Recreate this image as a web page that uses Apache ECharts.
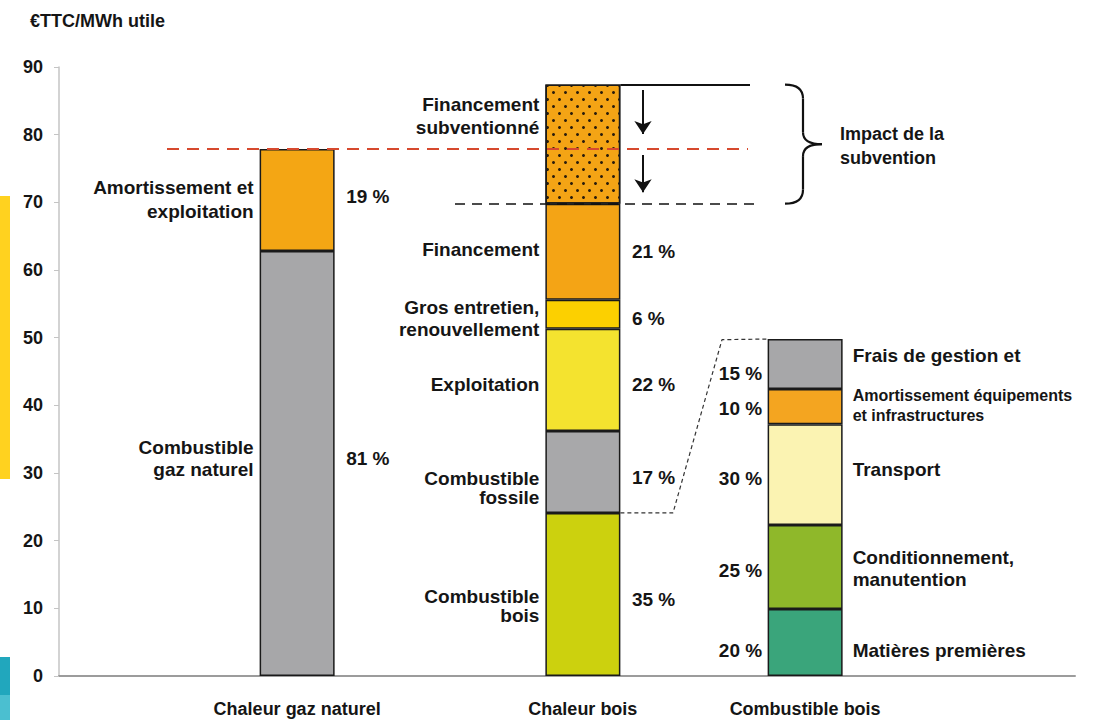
<!DOCTYPE html>
<html><head><meta charset="utf-8">
<script src="https://cdn.jsdelivr.net/npm/echarts@6/dist/echarts.min.js"></script>
<style>html,body{margin:0;padding:0;background:#fff}#c{width:1094px;height:720px}</style>
</head><body><div id="c"></div>
<script>
// ---------------- DATA ----------------
const barCategories = ['Chaleur gaz naturel', 'Chaleur bois', 'Combustible bois'];
const yAxisTitle = '€TTC/MWh utile';
const yMin = 0, yMax = 90, yStep = 10;

const gasSegments = ['Combustible\ngaz naturel', 'Amortissement et\nexploitation'];
const gasValues = [62.8, 15.1];
const gasShares = ['81 %', '19 %'];

const woodSegments = ['Combustible\nbois', 'Combustible\nfossile', 'Exploitation', 'Gros entretien,\nrenouvellement', 'Financement', 'Financement\nsubventionné'];
const woodValues = [24.1, 12.1, 15.1, 4.3, 14.2, 17.6];
const woodShares = ['35 %', '17 %', '22 %', '6 %', '21 %', ''];

const fuelSegments = ['Matières premières', 'Conditionnement,\nmanutention', 'Transport', 'Amortissement équipements\net infrastructures', 'Frais de gestion et'];
const fuelValues = [9.9, 12.4, 14.9, 5.2, 7.4];
const fuelShares = ['20 %', '25 %', '30 %', '10 %', '15 %'];

const braceText = 'Impact de la\nsubvention';

// ---------------- LAYOUT / STYLE ----------------
const SLOTS = 32;
const SLOT_OF = [7, 16, 23];
const GRID = { left: 59, right: 19, top: 67, bottom: 44 };
const W = 1094;
const BAND = (W - GRID.left - GRID.right) / SLOTS;
const BAR_W = 75;
const FONT = '"Liberation Sans", Arial, Helvetica, sans-serif';
const TXT = '#151515';

const gasColors = ['#a7a7a9', '#f4a614'];
const woodColors = ['#ccd10e', '#a8a8aa', '#f4e32f', '#fcd000', '#f4a415', '#f4a415'];
const fuelColors = ['#3aa57b', '#8fb82a', '#fbf3b2', '#f4a520', '#a7a7a9'];

const gasNameDy = [-5, 0], gasLineH = [22, 24], gasPctDy = [-5, -3];
const woodNameDy = [12, 16, 5, 4, -2, -28], woodLineH = [19, 19, 22, 22, 22, 23], woodPctDy = [5, 6, 5, 4, 0, 0];
const fuelNameDy = [8, 1, -5, -1, -9], fuelLineH = [22, 22, 22, 20, 22], fuelFont = [19, 19, 19, 16, 19], fuelPctDy = [8, 3, 4, 2, 9];

const dotDecal = { symbol: 'circle', symbolSize: 1, color: '#2b1d0c',
  dashArrayX: [[3, 9], [0, 6, 3, 3]], dashArrayY: [3, 4], rotation: 0 };

const categories = Array.from({ length: SLOTS }, (_, i) => {
  const k = SLOT_OF.indexOf(i); return k >= 0 ? barCategories[k] : '';
});
const sum = a => a.reduce((s, v) => s + v, 0);

const series = [];
function addBars(g, names, values, colors, side, nameDy, lineH, fontSz, decals) {
  const slot = SLOT_OF[g];
  names.forEach((nm, j) => {
    const data = new Array(SLOTS).fill('-');
    data[slot] = { value: values[j], label: { offset: [0, nameDy[j]], lineHeight: lineH[j], fontSize: fontSz ? fontSz[j] : 19 } };
    const itemStyle = { color: colors[j], borderColor: '#1a1a1a', borderWidth: 1.5 };
    if (decals && decals[j]) itemStyle.decal = decals[j];
    series.push({
      type: 'bar', name: nm.replace('\n', ' '), stack: 'total', barWidth: BAR_W,
      xAxisIndex: 0, yAxisIndex: 0, silent: true, z: 2, itemStyle,
      label: { show: true, position: side, distance: side === 'left' ? 6 : 10, formatter: nm,
        color: TXT, fontFamily: FONT, fontWeight: 'bold', fontSize: 19 },
      data
    });
  });
}
function addShares(g, values, shares, side, dy) {
  const slot = SLOT_OF[g]; let cum = 0; const data = [];
  values.forEach((v, j) => {
    const mid = cum + v / 2; cum += v;
    if (shares[j]) data.push({ name: shares[j], value: [slot + 0.5, mid], label: { offset: [0, dy[j]] } });
  });
  series.push({
    type: 'scatter', xAxisIndex: 1, yAxisIndex: 0, symbolSize: 1, silent: true, z: 4,
    itemStyle: { color: 'rgba(0,0,0,0)', opacity: 1 },
    label: { show: true, position: side, distance: BAR_W / 2 + (side === 'right' ? 11 : 5), formatter: '{b}',
      color: TXT, opacity: 1, fontFamily: FONT, fontWeight: 'bold', fontSize: 19 },
    data
  });
}

addBars(0, gasSegments, gasValues, gasColors, 'left', gasNameDy, gasLineH);
addBars(1, woodSegments, woodValues, woodColors, 'left', woodNameDy, woodLineH, null, [null, null, null, null, null, dotDecal]);
addBars(2, fuelSegments, fuelValues, fuelColors, 'right', fuelNameDy, fuelLineH, fuelFont);
addShares(0, gasValues, gasShares, 'right', gasPctDy);
addShares(1, woodValues, woodShares, 'right', woodPctDy);
addShares(2, fuelValues, fuelShares, 'left', fuelPctDy);

// annotations (in data units)
const u = px => (px - GRID.left) / BAND;
const barEdge = (g, s) => SLOT_OF[g] + 0.5 + s * BAR_W / 2 / BAND;
const gasTotal = sum(gasValues);
const woodTotal = sum(woodValues);
const woodNet = woodTotal - woodValues[woodValues.length - 1];
const fuelTotal = sum(fuelValues);
const arrowX = u(643);

const annIdx = series.length;
series.push({
  type: 'line', xAxisIndex: 1, yAxisIndex: 0, silent: true, z: 5, symbol: 'none',
  lineStyle: { color: '#333', width: 1.2, type: [4, 3] },
  data: [[barEdge(1, 1), woodValues[0]], [u(673), woodValues[0]], [u(722), fuelTotal - 0.1], [barEdge(2, -1), fuelTotal]],
  markLine: {
    silent: true, symbol: ['none', 'none'], label: { show: false }, animation: false,
    data: [
      [{ coord: [u(167), gasTotal], lineStyle: { color: '#d6492e', width: 2.2, type: [12, 8] } }, { coord: [u(748), gasTotal] }],
      [{ coord: [u(455), woodNet], lineStyle: { color: '#111', width: 1.6, type: [10, 7] } }, { coord: [u(760), woodNet] }],
      [{ coord: [barEdge(1, 1), woodTotal], lineStyle: { color: '#111', width: 2, type: 'solid' } }, { coord: [u(750), woodTotal] }],
      [{ coord: [arrowX, woodTotal - 0.8], symbol: 'none', lineStyle: { color: '#111', width: 2, type: 'solid' } },
       { coord: [arrowX, gasTotal + 2.2], symbol: 'arrow', symbolSize: [13, 13] }],
      [{ coord: [arrowX, gasTotal - 0.9], symbol: 'none', lineStyle: { color: '#111', width: 2, type: 'solid' } },
       { coord: [arrowX, woodNet + 1.7], symbol: 'arrow', symbolSize: [13, 13] }]
    ]
  }
});

const chart = echarts.init(document.getElementById('c'), null, { renderer: 'svg' });
chart.setOption({
  animation: false,
  backgroundColor: '#fff',
  title: { text: yAxisTitle, left: 25, top: 7, textStyle: { fontFamily: FONT, fontWeight: 'bold', fontSize: 18, color: TXT } },
  grid: { left: GRID.left, right: GRID.right, top: GRID.top, bottom: GRID.bottom, containLabel: false },
  xAxis: [
    { type: 'category', data: categories, axisTick: { show: false },
      axisLine: { lineStyle: { color: '#9c9c9c', width: 2 } },
      axisLabel: { interval: 0, fontFamily: FONT, fontWeight: 'bold', fontSize: 18, color: TXT, margin: 24 } },
    { type: 'value', min: 0, max: SLOTS, show: false }
  ],
  yAxis: { type: 'value', min: yMin, max: yMax, interval: yStep,
    axisLine: { show: true, lineStyle: { color: '#c4c4c4', width: 1.5 } },
    axisTick: { show: true, length: 5, lineStyle: { color: '#c4c4c4' } },
    splitLine: { show: false },
    axisLabel: { fontFamily: FONT, fontWeight: 'bold', fontSize: 18, color: TXT, margin: 16 } },
  series
});

// brace built from data-unit anchors
const P = (x, y) => chart.convertToPixel({ seriesIndex: annIdx }, [x, y]);
const bxS = u(785), bxM = u(803), bxT = u(822);
const braceTop = P(bxS, woodTotal), braceBot = P(bxS, woodNet);
const braceMid = (braceTop[1] + braceBot[1]) / 2;
const xS = braceTop[0], xM = P(bxM, 0)[0], xT = P(bxT, 0)[0];
const yT = braceTop[1], yB = braceBot[1];
const bs = { stroke: '#111', lineWidth: 2.2, fill: null };
const rr = 14;
chart.setOption({
  graphic: [
    { type: 'rect', shape: { x: 0, y: 196, width: 10, height: 283 }, style: { fill: '#ffd21f' }, silent: true },
    { type: 'rect', shape: { x: 0, y: 657, width: 10, height: 38 }, style: { fill: '#21a7bd' }, silent: true },
    { type: 'rect', shape: { x: 0, y: 695, width: 10, height: 25 }, style: { fill: '#4bbfd0' }, silent: true },
    { type: 'bezierCurve', shape: { x1: xS, y1: yT, x2: xM, y2: yT + rr, cpx1: xM, cpy1: yT }, style: bs, silent: true },
    { type: 'line', shape: { x1: xM, y1: yT + rr, x2: xM, y2: braceMid - 12 }, style: bs, silent: true },
    { type: 'bezierCurve', shape: { x1: xM, y1: braceMid - 12, x2: xT, y2: braceMid, cpx1: xM, cpy1: braceMid }, style: bs, silent: true },
    { type: 'bezierCurve', shape: { x1: xT, y1: braceMid, x2: xM, y2: braceMid + 12, cpx1: xM, cpy1: braceMid }, style: bs, silent: true },
    { type: 'line', shape: { x1: xM, y1: braceMid + 12, x2: xM, y2: yB - rr }, style: bs, silent: true },
    { type: 'bezierCurve', shape: { x1: xM, y1: yB - rr, x2: xS, y2: yB, cpx1: xM, cpy1: yB }, style: bs, silent: true },
    { type: 'text', x: xT + 18, y: braceMid + 2, silent: true,
      style: { text: braceText, fontFamily: FONT, fontWeight: 'bold', fontSize: 18, fill: TXT, lineHeight: 24, verticalAlign: 'middle', align: 'left' } }
  ]
});
</script>
</body></html>
